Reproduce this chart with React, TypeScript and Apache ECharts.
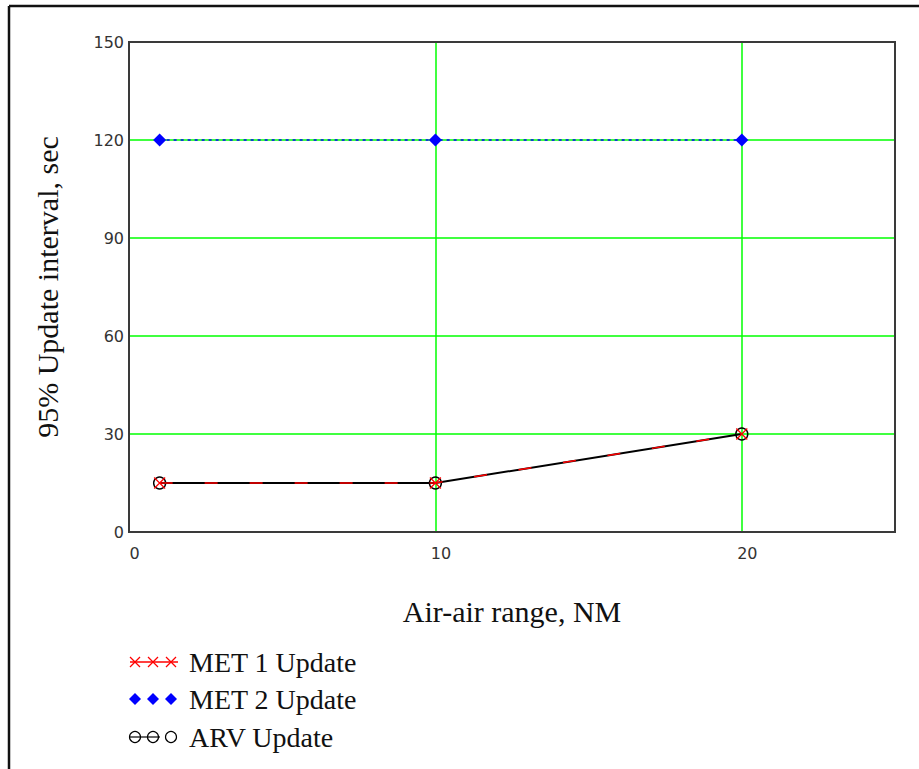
import React, { useEffect, useRef } from "react";
import * as echarts from "echarts";

// Range (NM) at which each update interval was evaluated
const rangeNM = [1, 10, 20];
// 95% update intervals, seconds
const met1Update = [15, 15, 30];
const met2Update = [120, 120, 120];
const arvUpdate = [15, 15, 30];

const seriesNames = ["MET 1 Update", "MET 2 Update", "ARV Update"];
const xTitle = "Air-air range, NM";
const yTitle = "95% Update interval, sec";

const RED = "#ff0000";
const BLUE = "#0000ff";
const BLACK = "#000000";
const GREEN = "#00ff00";
const SERIF = "'Liberation Serif', 'Times New Roman', serif";
const SANS = "'DejaVu Sans', Tahoma, sans-serif";

// Plot rectangle in pixels
const PLOT = { left: 129, top: 42, width: 766, height: 490 };

const pairs = (ys: number[]) => rangeNM.map((x, i) => [x, ys[i]]);

// Legend row: a short line with three markers and a label
function legendRow(kind: number, y: number) {
  const xs = [135, 153, 171];
  const children: any[] = [];
  if (kind === 0) {
    children.push({ type: "line", shape: { x1: 130, y1: y, x2: 178, y2: y }, style: { stroke: RED, lineWidth: 1.5 } });
    xs.forEach((cx) => {
      children.push({ type: "line", shape: { x1: cx - 5, y1: y - 5, x2: cx + 5, y2: y + 5 }, style: { stroke: RED, lineWidth: 1.2 } });
      children.push({ type: "line", shape: { x1: cx - 5, y1: y + 5, x2: cx + 5, y2: y - 5 }, style: { stroke: RED, lineWidth: 1.2 } });
    });
  } else if (kind === 1) {
    xs.forEach((cx) => {
      children.push({ type: "polygon", shape: { points: [[cx, y - 6], [cx + 6, y], [cx, y + 6], [cx - 6, y]] }, style: { fill: BLUE } });
    });
  } else {
    children.push({ type: "line", shape: { x1: 130, y1: y, x2: 160, y2: y }, style: { stroke: BLACK, lineWidth: 1.2 } });
    xs.forEach((cx) => {
      children.push({ type: "circle", shape: { cx, cy: y, r: 5.5 }, style: { fill: "none", stroke: BLACK, lineWidth: 1.2 } });
    });
  }
  children.push({
    type: "text",
    x: 189,
    y,
    style: { text: seriesNames[kind], font: `28px ${SERIF}`, fill: "#111", verticalAlign: "middle", align: "left" },
  });
  return { type: "group", children };
}

export default function App() {
  const ref = useRef<HTMLDivElement>(null);

  useEffect(() => {
    if (!ref.current) return;
    const chart = echarts.init(ref.current, null, { renderer: "svg" });
    chart.setOption({
      animation: false,
      backgroundColor: "#ffffff",
      grid: { ...PLOT, show: false },
      xAxis: {
        type: "value",
        min: 0,
        max: 25,
        interval: 10,
        name: xTitle,
        nameLocation: "middle",
        nameGap: 64,
        nameTextStyle: { fontFamily: SERIF, fontSize: 30, color: "#111" },
        axisLine: { show: false },
        axisTick: { show: false },
        axisLabel: { fontFamily: SANS, fontSize: 16, color: "#333", margin: 13, padding: [0, 0, 0, 11], showMaxLabel: false },
        splitLine: { show: true, lineStyle: { color: GREEN, width: 1.5 } },
      },
      yAxis: {
        type: "value",
        min: 0,
        max: 150,
        interval: 30,
        name: yTitle,
        nameLocation: "middle",
        nameGap: 67,
        nameTextStyle: { fontFamily: SERIF, fontSize: 30, color: "#111" },
        axisLine: { show: false },
        axisTick: { show: false },
        axisLabel: { fontFamily: SANS, fontSize: 16, color: "#333", margin: 5, padding: [12, 0, 0, 0] },
        splitLine: { show: true, lineStyle: { color: GREEN, width: 1.5 } },
      },
      series: [
        {
          name: seriesNames[1],
          type: "line",
          data: pairs(met2Update),
          z: 2,
          symbol: "diamond",
          symbolSize: 13,
          itemStyle: { color: BLUE },
          lineStyle: { color: BLUE, width: 1.5, type: [3, 4] },
        },
        {
          name: seriesNames[2],
          type: "line",
          data: pairs(arvUpdate),
          z: 3,
          symbol: "circle",
          symbolSize: 12,
          itemStyle: { color: "rgba(0,0,0,0)", borderColor: BLACK, borderWidth: 1.4 },
          lineStyle: { color: BLACK, width: 2 },
        },
        {
          name: seriesNames[0],
          type: "line",
          data: pairs(met1Update),
          z: 4,
          symbol: "path://M0,0L10,10M10,0L0,10",
          symbolSize: 11,
          itemStyle: { color: "rgba(0,0,0,0)", borderColor: RED, borderWidth: 1.2 },
          lineStyle: { color: RED, width: 1.5, type: [13, 32] },
        },
      ],
      graphic: [
        // plot frame drawn above the grid lines
        {
          type: "rect",
          z: 50,
          shape: { x: PLOT.left, y: PLOT.top, width: PLOT.width, height: PLOT.height },
          style: { fill: "none", stroke: "#3a3a3a", lineWidth: 2 },
        },
        { type: "line", shape: { x1: 9, y1: 6, x2: 919, y2: 6 }, style: { stroke: "#111", lineWidth: 2.5 } },
        { type: "line", shape: { x1: 9, y1: 6, x2: 9, y2: 769 }, style: { stroke: "#111", lineWidth: 2.5 } },
        legendRow(0, 662),
        legendRow(1, 699),
        legendRow(2, 737),
      ],
    });
    return () => chart.dispose();
  }, []);

  return (
    <div
      ref={ref}
      style={{ position: "fixed", left: 0, top: 0, width: 919, height: 769 }}
    />
  );
}
